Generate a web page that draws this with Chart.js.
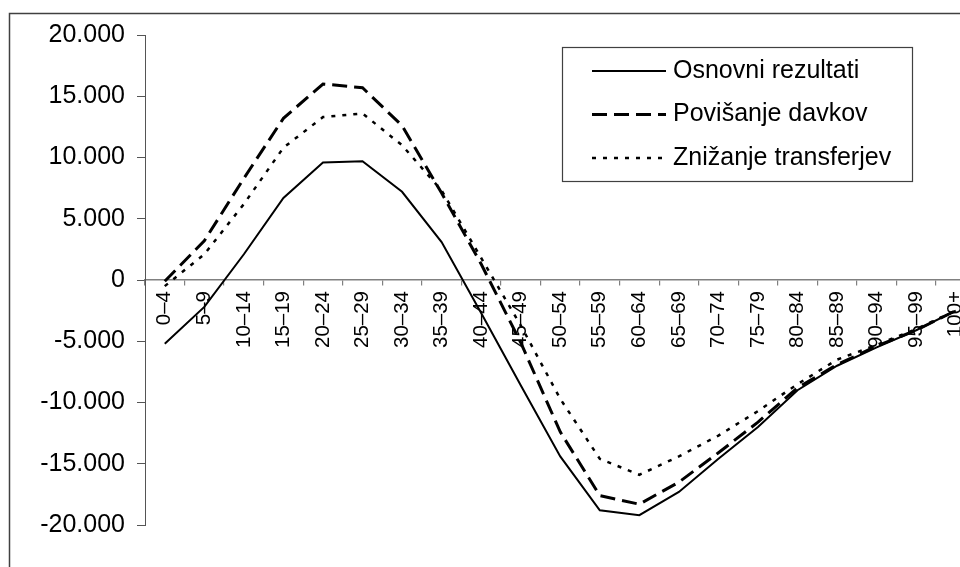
<!DOCTYPE html>
<html>
<head>
<meta charset="utf-8">
<script src="https://cdn.jsdelivr.net/npm/chart.js@4"></script>
<style>
  html, body { margin: 0; padding: 0; background: #fff; overflow: hidden; }
  #wrap { width: 960px; height: 567px; overflow: hidden; }
  canvas { display: block; }
</style>
</head>
<body>
<div id="wrap"><canvas id="c" width="1000" height="567"></canvas></div>
<script>
// Age groups (5-year cohorts)
const ageGroups = ['0–4','5–9','10–14','15–19','20–24','25–29','30–34','35–39','40–44','45–49',
  '50–54','55–59','60–64','65–69','70–74','75–79','80–84','85–89','90–94','95–99','100+'];

// Series values per age group
const osnovni   = [-5200, -2200, 2100, 6700, 9600, 9700, 7200, 3100, -2700, -8600,
  -14400, -18800, -19200, -17300, -14600, -12000, -9000, -7000, -5500, -4100, -2500];
const povisanje = [-100, 3200, 8300, 13200, 16000, 15700, 12600, 7100, 1300, -5100,
  -12400, -17600, -18300, -16500, -14100, -11600, -8800, -6900, -5400, -4100, -2500];
const znizanje  = [-500, 2100, 6200, 10800, 13300, 13600, 11000, 7300, 1800, -3700,
  -9700, -14600, -15900, -14400, -12700, -10700, -8500, -6500, -5300, -4000, -2500];

const seriesNames = ['Osnovni rezultati', 'Povišanje davkov', 'Znižanje transferjev'];

// Value axis ticks and their labels
const yTicks = [-20000, -15000, -10000, -5000, 0, 5000, 10000, 15000, 20000];
const yTickLabels = ['-20.000', '-15.000', '-10.000', '-5.000', '0', '5.000', '10.000', '15.000', '20.000'];

const FONT = "'Liberation Sans', Arial, sans-serif";

// White background plus the outer frame
const framePlugin = {
  id: 'frame',
  beforeDraw(chart) {
    const ctx = chart.ctx;
    ctx.save();
    ctx.fillStyle = '#fff';
    ctx.fillRect(0, 0, chart.width, chart.height);
    ctx.strokeStyle = '#404040';
    ctx.lineWidth = 1.5;
    ctx.beginPath();
    ctx.moveTo(9.5, chart.height + 5);
    ctx.lineTo(9.5, 13.5);
    ctx.lineTo(chart.width + 5, 13.5);
    ctx.stroke();
    ctx.restore();
  }
};

// Boxed legend with line samples, placed inside the plot
const boxLegend = {
  id: 'boxLegend',
  afterDraw(chart) {
    const ctx = chart.ctx;
    const x0 = 562.5, y0 = 47.5, w = 350, h = 134;
    ctx.save();
    ctx.fillStyle = '#fff';
    ctx.fillRect(x0, y0, w, h);
    ctx.strokeStyle = '#404040';
    ctx.lineWidth = 1.2;
    ctx.setLineDash([]);
    ctx.strokeRect(x0, y0, w, h);
    chart.data.datasets.forEach((ds, i) => {
      const ly = 71 + i * 43.5;
      ctx.strokeStyle = ds.borderColor;
      ctx.lineWidth = ds.borderWidth;
      ctx.setLineDash(ds.borderDash || []);
      ctx.beginPath();
      ctx.moveTo(592, ly);
      ctx.lineTo(666, ly);
      ctx.stroke();
      ctx.setLineDash([]);
      ctx.fillStyle = '#000';
      ctx.font = '25px ' + FONT;
      ctx.textBaseline = 'alphabetic';
      ctx.textAlign = 'left';
      ctx.fillText(ds.label, 673, 77.7 + i * 43.5);
    });
    ctx.restore();
  }
};

new Chart(document.getElementById('c'), {
  type: 'line',
  data: {
    labels: ageGroups,
    datasets: [
      { label: seriesNames[0], data: osnovni, borderColor: '#000', borderWidth: 2, borderDash: [] },
      { label: seriesNames[1], data: povisanje, borderColor: '#000', borderWidth: 3, borderDash: [15, 7] },
      { label: seriesNames[2], data: znizanje, borderColor: '#000', borderWidth: 2.5, borderDash: [4, 7] }
    ]
  },
  options: {
    responsive: false,
    animation: false,
    devicePixelRatio: 1,
    layout: { padding: { left: 0, top: 35, right: 24.5, bottom: 42 } },
    elements: {
      point: { radius: 0, hoverRadius: 0 },
      line: { tension: 0, fill: false, borderCapStyle: 'butt', borderJoinStyle: 'miter' }
    },
    plugins: {
      legend: { display: false },
      tooltip: { enabled: false }
    },
    scales: {
      x: {
        type: 'category',
        position: { y: 0 },
        offset: true,
        grid: { offset: true, drawOnChartArea: false, drawTicks: true, tickLength: 5, color: '#808080', lineWidth: 1.2 },
        border: { display: true, color: '#808080', width: 1.5 },
        ticks: {
          autoSkip: false, minRotation: 90, maxRotation: 90, padding: 6,
          color: '#000', font: { family: FONT, size: 20.5 }
        }
      },
      y: {
        min: -20000,
        max: 20000,
        afterFit(scale) { scale.width = 145; },
        afterBuildTicks(scale) { scale.ticks = yTicks.map(v => ({ value: v })); },
        grid: { drawOnChartArea: false, drawTicks: true, tickLength: 8, color: '#555', lineWidth: 1 },
        border: { display: true, color: '#555', width: 1 },
        ticks: {
          padding: 12, color: '#000', font: { family: FONT, size: 25 },
          callback: (v, i) => yTickLabels[i]
        }
      }
    }
  },
  plugins: [framePlugin, boxLegend]
});
</script>
</body>
</html>
